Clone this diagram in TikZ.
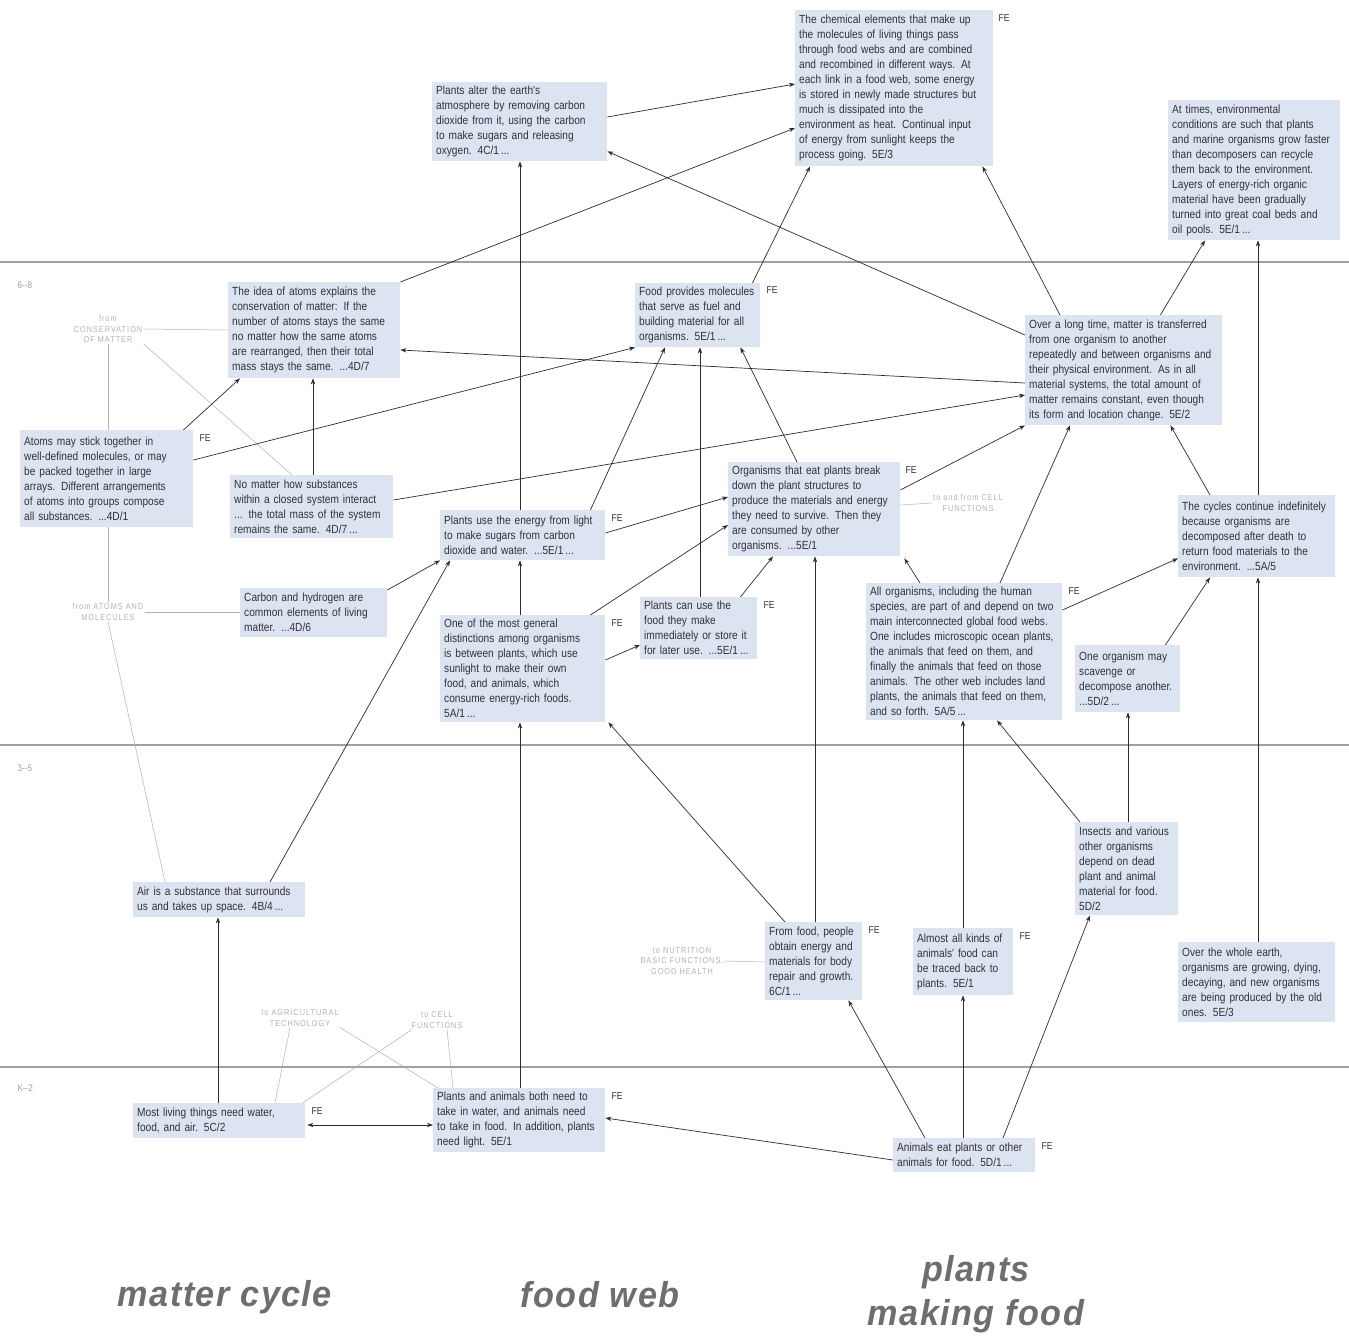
\documentclass[tikz,border=0pt]{standalone}
\usepackage{fontspec}
\setmainfont{Liberation Sans}
\newfontfamily\boxfont[FakeStretch=0.86]{Liberation Sans}
\newfontfamily\faintfont[FakeStretch=0.86,LetterSpace=12]{Liberation Sans}
\newfontfamily\labfont[FakeStretch=0.95,LetterSpace=4]{Liberation Sans}
\usetikzlibrary{arrows.meta}
\definecolor{boxblue}{RGB}{220,228,242}
\definecolor{txt}{RGB}{50,50,55}
\definecolor{linec}{RGB}{45,45,45}
\definecolor{faint}{RGB}{178,178,178}
\definecolor{divc}{RGB}{160,160,160}
\definecolor{bigl}{RGB}{110,110,110}
\tikzset{
  box/.style={fill=boxblue, anchor=north west, inner sep=4pt, align=left, text=txt,
    font=\boxfont\fontsize{11.8pt}{15pt}\selectfont},
  fe/.style={anchor=north west, text=txt, inner sep=0pt,
    font=\boxfont\fontsize{10pt}{11pt}\selectfont},
  arr/.style={draw=linec, line width=0.7pt, -{Stealth[length=6pt,width=4.4pt]}},
  dblarr/.style={draw=linec, line width=0.7pt, {Stealth[length=6pt,width=4.4pt]}-{Stealth[length=6pt,width=4.4pt]}},
  faintlab/.style={text=faint, align=center, inner sep=1pt,
    font=\faintfont\fontsize{8.5pt}{10.5pt}\selectfont},
  faintline/.style={draw=faint, line width=0.5pt},
  divider/.style={draw=divc, line width=1.6pt},
  level/.style={text=divc, anchor=west, font=\boxfont\fontsize{9.5pt}{10pt}\selectfont},
  biglab/.style={text=bigl, align=center,
    font=\labfont\bfseries\itshape\fontsize{36pt}{44pt}\selectfont}
}
\begin{document}
\begin{tikzpicture}[x=1pt,y=-1pt]
\fill[white] (0,0) rectangle (1349,1336);
\useasboundingbox (0,0) rectangle (1349,1336);

% grade band dividers
\draw[divider] (0,262) -- (1349,262);
\draw[divider] (0,745) -- (1349,745);
\draw[divider] (0,1067) -- (1349,1067);
\node[level] (lev68) at (14,285) {6--8};
\node[level] (lev35) at (14,768) {3--5};
\node[level] (levK2) at (14,1088) {K--2};

% ---------- top band (9-12) ----------
\node[box, text width=167pt, minimum height=78pt] (A1) at (432,82)
 {Plants alter the earth's\\atmosphere by removing carbon\\dioxide from it, using the carbon\\to make sugars and releasing\\oxygen. 4C/1\,...};
\node[box, text width=190pt, minimum height=156pt] (A2) at (795,10)
 {The chemical elements that make up\\the molecules of living things pass\\through food webs and are combined\\and recombined in different ways. At\\each link in a food web, some energy\\is stored in newly made structures but\\much is dissipated into the\\environment as heat. Continual input\\of energy from sunlight keeps the\\process going. 5E/3};
\node[fe] (feA2) at ([xshift=5pt,yshift=-4pt]A2.north east) {FE};
\node[box, text width=164pt, minimum height=140pt] (A3) at (1168,100)
 {At times, environmental\\conditions are such that plants\\and marine organisms grow faster\\than decomposers can recycle\\them back to the environment.\\Layers of energy-rich organic\\material have been gradually\\turned into great coal beds and\\oil pools. 5E/1\,...};

% ---------- 6-8 band ----------
\node[box, text width=164pt, minimum height=96pt] (B1) at (228,282)
 {The idea of atoms explains the\\conservation of matter: If the\\number of atoms stays the same\\no matter how the same atoms\\are rearranged, then their total\\mass stays the same. ...4D/7};
\node[box, text width=117pt, minimum height=62pt] (B2) at (635,283)
 {Food provides molecules\\that serve as fuel and\\building material for all\\organisms. 5E/1\,...};
\node[fe] (feB2) at ([xshift=6pt,yshift=-3pt]B2.north east) {FE};
\node[box, text width=189pt, minimum height=110pt] (B3) at (1025,315)
 {Over a long time, matter is transferred\\from one organism to another\\repeatedly and between organisms and\\their physical environment. As in all\\material systems, the total amount of\\matter remains constant, even though\\its form and location change. 5E/2};
\node[box, text width=165pt, minimum height=97pt] (B4) at (20,430)
 {Atoms may stick together in\\well-defined molecules, or may\\be packed together in large\\arrays. Different arrangements\\of atoms into groups compose\\all substances. ...4D/1};
\node[fe] (feB4) at ([xshift=6pt,yshift=-4pt]B4.north east) {FE};
\node[box, text width=155pt, minimum height=63pt] (B5) at (230,475)
 {No matter how substances\\within a closed system interact\\... the total mass of the system\\remains the same. 4D/7\,...};
\node[box, text width=157pt, minimum height=50pt] (B6) at (440,510)
 {Plants use the energy from light\\to make sugars from carbon\\dioxide and water. ...5E/1\,...};
\node[fe] (feB6) at ([xshift=6pt,yshift=-4pt]B6.north east) {FE};
\node[box, text width=164pt, minimum height=93pt] (B7) at (728,462)
 {Organisms that eat plants break\\down the plant structures to\\produce the materials and energy\\they need to survive. Then they\\are consumed by other\\organisms. ...5E/1};
\node[fe] (feB7) at ([xshift=5pt,yshift=-4pt]B7.north east) {FE};
\node[box, text width=149pt, minimum height=82pt] (B8) at (1178,495)
 {The cycles continue indefinitely\\because organisms are\\decomposed after death to\\return food materials to the\\environment. ...5A/5};
\node[box, text width=139pt, minimum height=49pt] (B9) at (240,588)
 {Carbon and hydrogen are\\common elements of living\\matter. ...4D/6};
\node[box, text width=157pt, minimum height=107pt] (B10) at (440,615)
 {One of the most general\\distinctions among organisms\\is between plants, which use\\sunlight to make their own\\food, and animals, which\\consume energy-rich foods.\\5A/1\,...};
\node[fe] (feB10) at ([xshift=6pt,yshift=-4pt]B10.north east) {FE};
\node[box, text width=109pt, minimum height=61pt] (B11) at (640,597)
 {Plants can use the\\food they make\\immediately or store it\\for later use. ...5E/1\,...};
\node[fe] (feB11) at ([xshift=6pt,yshift=-4pt]B11.north east) {FE};
\node[box, text width=188pt, minimum height=137pt] (B12) at (866,583)
 {All organisms, including the human\\species, are part of and depend on two\\main interconnected global food webs.\\One includes microscopic ocean plants,\\the animals that feed on them, and\\finally the animals that feed on those\\animals. The other web includes land\\plants, the animals that feed on them,\\and so forth. 5A/5\,...};
\node[fe] (feB12) at ([xshift=6pt,yshift=-4pt]B12.north east) {FE};
\node[box, text width=97pt, minimum height=67pt] (B13) at (1075,645)
 {One organism may\\scavenge or\\decompose another.\\...5D/2\,...};

% ---------- 3-5 band ----------
\node[box, text width=164pt, minimum height=35pt] (C1) at (133,882)
 {Air is a substance that surrounds\\us and takes up space. 4B/4\,...};
\node[box, text width=89pt, minimum height=78pt] (C2) at (765,922)
 {From food, people\\obtain energy and\\materials for body\\repair and growth.\\6C/1\,...};
\node[fe] (feC2) at ([xshift=6pt,yshift=-4pt]C2.north east) {FE};
\node[box, text width=92pt, minimum height=67pt] (C3) at (913,928)
 {Almost all kinds of\\animals' food can\\be traced back to\\plants. 5E/1};
\node[fe] (feC3) at ([xshift=6pt,yshift=-4pt]C3.north east) {FE};
\node[box, text width=95pt, minimum height=93pt] (C4) at (1075,822)
 {Insects and various\\other organisms\\depend on dead\\plant and animal\\material for food.\\5D/2};
\node[box, text width=149pt, minimum height=80pt] (C5) at (1178,942)
 {Over the whole earth,\\organisms are growing, dying,\\decaying, and new organisms\\are being produced by the old\\ones. 5E/3};

% ---------- K-2 band ----------
\node[box, text width=164pt, minimum height=35pt] (D1) at (133,1103)
 {Most living things need water,\\food, and air. 5C/2};
\node[fe] (feD1) at ([xshift=6pt,yshift=-4pt]D1.north east) {FE};
\node[box, text width=164pt, minimum height=64pt] (D2) at (433,1088)
 {Plants and animals both need to\\take in water, and animals need\\to take in food. In addition, plants\\need light. 5E/1};
\node[fe] (feD2) at ([xshift=6pt,yshift=-4pt]D2.north east) {FE};
\node[box, text width=134pt, minimum height=34pt] (D3) at (893,1138)
 {Animals eat plants or other\\animals for food. 5D/1\,...};
\node[fe] (feD3) at ([xshift=6pt,yshift=-4pt]D3.north east) {FE};

% ---------- faint cross-map labels ----------
\node[faintlab] (Lcons) at (108,329) {from\\CONSERVATION\\OF MATTER};
\node[faintlab] (Latoms) at (108,612) {from ATOMS AND\\MOLECULES};
\node[faintlab] (Lcell1) at (968,503) {to and from CELL\\FUNCTIONS};
\node[faintlab] (Lagri) at (300,1018) {to AGRICULTURAL\\TECHNOLOGY};
\node[faintlab] (Lcell2) at (437,1020) {to CELL\\FUNCTIONS};
\node[faintlab] (Lnutr) at (682,961) {to NUTRITION\\BASIC FUNCTIONS,\\GOOD HEALTH};

\draw[faintline] (Lcons.east) -- ([yshift=-48pt]B1.north west);
\draw[faintline] (Lcons.south) -- ([xshift=88pt]B4.north west);
\draw[faintline] (Lcons.south east) -- ([xshift=62pt]B5.north west);
\draw[faintline] ([xshift=88pt]B4.south west) -- (Latoms.north);
\draw[faintline] (Latoms.east) -- ([yshift=-24pt]B9.north west);
\draw[faintline] (Latoms.south) -- ([xshift=32pt]C1.north west);
\draw[faintline] ([yshift=-43pt]B7.north east) -- (Lcell1.west);
\draw[faintline] ([xshift=-10pt]Lagri.south) -- ([xshift=142pt]D1.north west);
\draw[faintline] ([xshift=40pt]Lagri.south) -- ([xshift=5pt]D2.north west);
\draw[faintline] ([xshift=-25pt]Lcell2.south) -- ([xshift=-3pt]D1.north east);
\draw[faintline] ([xshift=10pt]Lcell2.south) -- ([xshift=20pt]D2.north west);
\draw[faintline] (Lnutr.east) -- ([yshift=-40pt]C2.north west);

% ---------- connectors ----------
\draw[arr] ([yshift=-35pt]A1.north east) -- ([yshift=-74pt]A2.north west);
\draw[arr] (B1.north east) -- ([yshift=-118pt]A2.north west);
\draw[arr] ([yshift=-20pt]B3.north west) -- ([yshift=10pt]A1.south east);
\draw[arr] ([xshift=-8pt]B2.north east) -- ([xshift=15pt]A2.south west);
\draw[arr] ([xshift=35pt]B3.north west) -- ([xshift=-11pt]A2.south east);
\draw[arr] ([xshift=-62pt]B3.north east) -- ([xshift=37pt]A3.south west);
\draw[arr] ([xshift=80pt]B8.north west) -- ([xshift=90pt]A3.south west);
\draw[arr] ([xshift=-10pt]B4.north east) -- ([xshift=12pt]B1.south west);
\draw[arr] ([xshift=83pt]B5.north west) -- ([xshift=85pt]B1.south west);
\draw[arr] ([yshift=-68pt]B3.north west) -- ([yshift=-68pt]B1.north east);
\draw[arr] ([yshift=-30pt]B4.north east) -- (B2.south west);
\draw[arr] ([yshift=-25pt]B5.north east) -- ([yshift=-80pt]B3.north west);
\draw[arr] ([yshift=-28pt]B7.north east) -- (B3.south west);
\draw[arr] ([xshift=134pt]B12.north west) -- ([xshift=45pt]B3.south west);
\draw[arr] ([xshift=32pt]B8.north west) -- ([xshift=-52pt]B3.south east);
\draw[arr] ([xshift=-15pt]B6.north east) -- ([xshift=30pt]B2.south west);
\draw[arr] ([xshift=60pt]B11.north west) -- ([xshift=65pt]B2.south west);
\draw[arr] ([xshift=69pt]B7.north west) -- ([xshift=-20pt]B2.south east);
\draw[arr] ([yshift=-23pt]B6.north east) -- ([yshift=-35pt]B7.north west);
\draw[arr] ([xshift=-15pt]B10.north east) -- ([yshift=-63pt]B7.north west);
\draw[arr] ([xshift=-17pt]B11.north east) -- ([xshift=45pt]B7.south west);
\draw[arr] ([xshift=54pt]B12.north west) -- ([xshift=4pt,yshift=-2pt]B7.south east);
\draw[arr] ([xshift=50pt]C2.north west) -- ([xshift=87pt]B7.south west);
\draw[arr] ([yshift=-45pt]B10.north east) -- ([yshift=-48pt]B11.north west);
\draw[arr] ([xshift=80pt]B10.north west) -- ([xshift=80pt]B6.south west);
\draw[arr] ([yshift=-2pt]B9.north east) -- (B6.south west);
\draw[arr] ([xshift=137pt]C1.north west) -- ([xshift=10pt]B6.south west);
\draw[arr] ([xshift=87pt]D2.north west) -- ([xshift=80pt]B10.south west);
\draw[arr] ([xshift=20pt]C2.north west) -- ([xshift=3pt]B10.south east);
\draw[arr] ([xshift=80pt]B6.north west) -- ([xshift=88pt]A1.south west);
\draw[arr] ([xshift=50pt]C3.north west) -- ([xshift=97pt]B12.south west);
\draw[arr] ([xshift=5pt]C4.north west) -- ([xshift=131pt]B12.south west);
\draw[arr] ([xshift=53pt]C4.north west) -- ([xshift=53pt]B13.south west);
\draw[arr] ([xshift=-15pt]B13.north east) -- ([xshift=32pt]B8.south west);
\draw[arr] ([yshift=-27pt]B12.north east) -- ([yshift=19pt]B8.south west);
\draw[arr] ([xshift=80pt]C5.north west) -- ([xshift=80pt]B8.south west);
\draw[arr] ([xshift=85pt]D1.north west) -- ([xshift=85pt]C1.south west);
\draw[dblarr] ([xshift=2pt,yshift=-22pt]D1.north east) -- ([yshift=-37pt]D2.north west);
\draw[arr] ([yshift=-22pt]D3.north west) -- ([yshift=-30pt]D2.north east);
\draw[arr] ([xshift=32pt]D3.north west) -- ([xshift=-14pt]C2.south east);
\draw[arr] ([xshift=70pt]D3.north west) -- ([xshift=50pt]C3.south west);
\draw[arr] ([xshift=110pt]D3.north west) -- ([xshift=15pt]C4.south west);

% ---------- bottom titles ----------
\node[biglab] (tmatter) at (225,1297) {matter cycle};
\node[biglab] (tfood) at (600,1295) {food web};
\node[biglab] (tplants) at (976,1294) {plants\\making food};
\end{tikzpicture}
\end{document}
